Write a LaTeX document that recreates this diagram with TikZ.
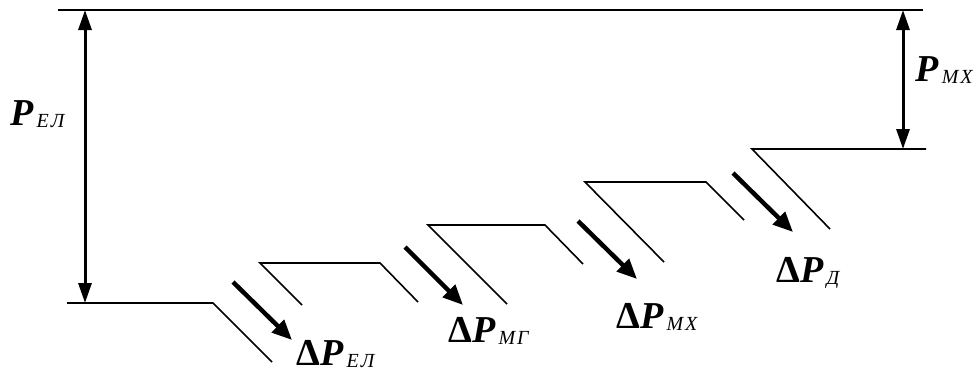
\documentclass[tikz,border=0pt]{standalone}
\usepackage{fontspec}
\setmainfont{Liberation Serif}
\usetikzlibrary{arrows.meta}

\newcommand{\lsub}[1]{\raisebox{-2pt}{\fontsize{20}{20}\selectfont\mdseries\itshape\addfontfeatures{LetterSpace=10}\,#1}}

\tikzset{
  level/.style={line width=1.6pt, line join=miter},
  loss/.style={line width=4.5pt, -{Triangle[length=20pt,width=17pt]}},
  dim/.style={line width=3pt, {Triangle[length=20pt,width=13pt]}-{Triangle[length=20pt,width=13pt]}},
  lbl/.style={inner sep=0pt, anchor=base west, font=\fontsize{38}{38}\selectfont\bfseries\itshape},
}

\begin{document}
\begin{tikzpicture}[x=1pt,y=-1pt]
      \useasboundingbox (0,0) rectangle (978,376);

      % power levels
      \coordinate (t0) at (58,10);
      \coordinate (t1) at (923,10);
      \coordinate (b0) at (67,303);
      \coordinate (b1) at (213,303);
      \coordinate (b2) at (272,362);

      \coordinate (s1a) at (302,305);
      \coordinate (s1b) at (260,263);
      \coordinate (s1c) at (380,263);
      \coordinate (s1d) at (418,302);

      \coordinate (s2a) at (507,304);
      \coordinate (s2b) at (428,225);
      \coordinate (s2c) at (545,225);
      \coordinate (s2d) at (583,264);

      \coordinate (s3a) at (664,262);
      \coordinate (s3b) at (585,182);
      \coordinate (s3c) at (706,182);
      \coordinate (s3d) at (744,220);

      \coordinate (s4a) at (830,229);
      \coordinate (s4b) at (752,149);
      \coordinate (s4c) at (926,149);

      \draw[level] (t0) -- (t1);
      \draw[level] (b0) -- (b1) -- (b2);
      \draw[level] (s1a) -- (s1b) -- (s1c) -- (s1d);
      \draw[level] (s2a) -- (s2b) -- (s2c) -- (s2d);
      \draw[level] (s3a) -- (s3b) -- (s3c) -- (s3d);
      \draw[level] (s4a) -- (s4b) -- (s4c);

      % dimension arrows
      \coordinate (pel1) at (85,10);
      \coordinate (pel2) at (85,303);
      \coordinate (pmx1) at (903,10);
      \coordinate (pmx2) at (903,149);
      \draw[dim] (pel1) -- (pel2);
      \draw[dim] (pmx1) -- (pmx2);

      % losses
      \coordinate (l1a) at (233,282);
      \coordinate (l1b) at (292,340);
      \coordinate (l2a) at (405,247);
      \coordinate (l2b) at (463,305);
      \coordinate (l3a) at (578,221);
      \coordinate (l3b) at (637,279);
      \coordinate (l4a) at (733,173);
      \coordinate (l4b) at (793,232);
      \draw[loss] (l1a) -- (l1b);
      \draw[loss] (l2a) -- (l2b);
      \draw[loss] (l3a) -- (l3b);
      \draw[loss] (l4a) -- (l4b);

      \node[lbl] (pel) at (10,125) {P\lsub{ЕЛ}};
      \node[lbl] (pmx) at (915,81) {P\lsub{МХ}};
      \node[lbl] (dpel) at (296,365) {{\upshape Δ}P\lsub{ЕЛ}};
      \node[lbl] (dpmg) at (448,342) {{\upshape Δ}P\lsub{МГ}};
      \node[lbl] (dpmx) at (616,328) {{\upshape Δ}P\lsub{МХ}};
      \node[lbl] (dpd) at (776,282) {{\upshape Δ}P\lsub{Д}};
\end{tikzpicture}
\end{document}
